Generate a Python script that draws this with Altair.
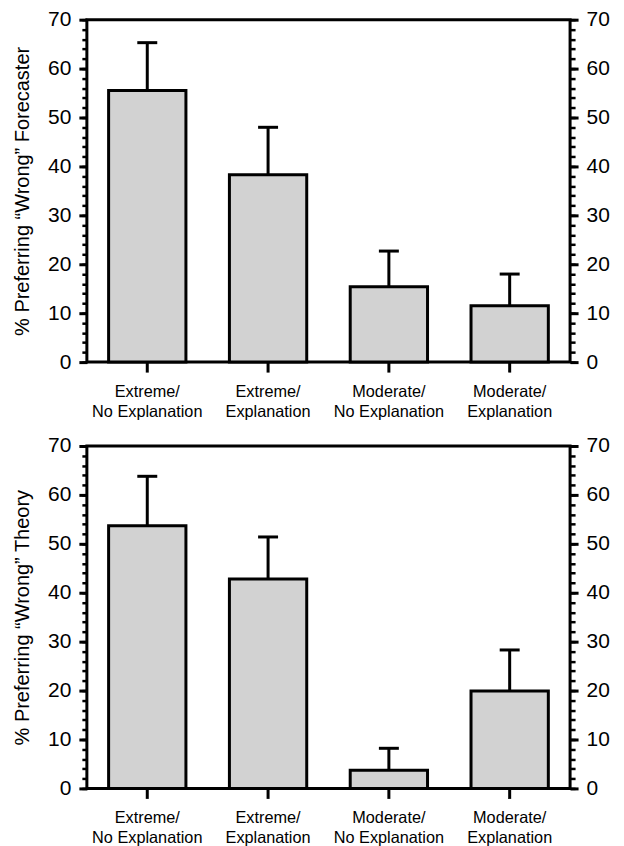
import altair as alt
import pandas as pd

categories = [
    "Extreme/\nNo Explanation",
    "Extreme/\nExplanation",
    "Moderate/\nNo Explanation",
    "Moderate/\nExplanation",
]
forecaster_pct = [55.5, 38.3, 15.4, 11.5]
forecaster_upper = [65.3, 48.0, 22.7, 18.0]
theory_pct = [53.7, 42.8, 3.7, 19.9]
theory_upper = [63.8, 51.4, 8.2, 28.3]
y_major = [0, 10, 20, 30, 40, 50, 60, 70]
y_minor = list(range(0, 71, 2))

FONT = "Liberation Sans"
TICK_FS = 21


def panel(values, upper, title):
    df = pd.DataFrame({"cat": categories, "pct": values, "upper": upper})
    base = alt.Chart(df)
    xscale = alt.Scale(paddingInner=0.36, paddingOuter=0.18)
    yscale = alt.Scale(domain=[0, 70], nice=False, zero=True)
    x_axis = alt.Axis(
        title=None, labelAngle=0, domain=False, tickSize=10, tickWidth=3,
        tickColor="black", labelFont=FONT, labelFontSize=16.3, labelLineHeight=20,
        labelPadding=11, labelColor="black",
        labelExpr="split(datum.label, '\\n')",
    )
    x_enc = alt.X("cat:N", sort=categories, scale=xscale, axis=x_axis)

    def yaxis(orient, vals, size, width, labels, ttl=None):
        kw = dict(
            orient=orient, values=vals, domain=False, tickSize=size,
            tickWidth=width, tickColor="black", grid=False, title=ttl,
            labels=labels,
        )
        if labels:
            kw.update(labelFont=FONT, labelFontSize=TICK_FS, labelColor="black",
                      labelPadding=8)
        if ttl:
            kw.update(titleFont=FONT, titleFontSize=20, titleFontWeight="normal",
                      titleColor="black", titlePadding=15)
        return alt.Axis(**kw)

    bars = base.mark_bar(fill="#d2d2d2", stroke="black", strokeWidth=3).encode(
        x=x_enc,
        y=alt.Y("pct:Q", scale=yscale, axis=yaxis("left", y_major, 8, 3, True, title)),
    )
    err = base.mark_rule(color="black", strokeWidth=3).encode(
        x=x_enc,
        y=alt.Y("pct:Q", scale=yscale, axis=yaxis("left", y_minor, 5, 2.5, False)),
        y2="upper:Q",
    )
    cap = base.mark_tick(color="black", size=20, thickness=3, opacity=1).encode(
        x=x_enc,
        y=alt.Y("upper:Q", scale=yscale, axis=yaxis("right", y_major, 8, 3, True)),
    )
    dummy = base.mark_point(opacity=0).encode(
        x=x_enc,
        y=alt.Y("upper:Q", scale=yscale, axis=yaxis("right", y_minor, 5, 2.5, False)),
    )
    return (
        alt.layer(bars, err, cap, dummy)
        .resolve_axis(y="independent")
        .properties(width=484, height=343)
    )


top = panel(forecaster_pct, forecaster_upper, "% Preferring \u201cWrong\u201d Forecaster")
bottom = panel(theory_pct, theory_upper, "% Preferring \u201cWrong\u201d Theory")

chart = (
    alt.vconcat(top, bottom, spacing=84, bounds="flush")
    .properties(padding={"left": 3, "top": -2, "right": 5, "bottom": 5})
    .configure(background="white")
    .configure_view(stroke="black", strokeWidth=3)
)

chart.save("out.html", embed_options={"renderer": "svg", "actions": False})
